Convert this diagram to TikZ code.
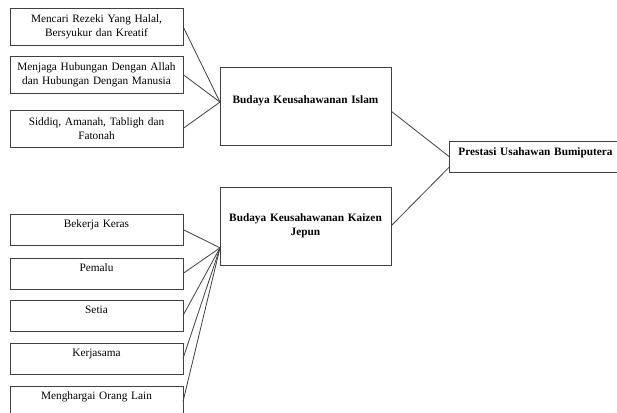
\documentclass[tikz,border=0pt]{standalone}
\usepackage{fontspec}
\setmainfont{Liberation Serif}
\usetikzlibrary{positioning,calc}
\tikzset{
    leftbox/.style={rectangle, draw=black!75, line width=0.9pt, text width=159pt,
                    inner xsep=7pt, inner ysep=0pt, outer sep=0pt, align=center,
                    font=\fontsize{11.3}{14}\selectfont},
    twoline/.style={leftbox, minimum height=37pt},
    oneline/.style={leftbox, minimum height=31pt, text height=8pt, text depth=12pt},
    bigbox/.style={rectangle, draw=black!75, line width=0.9pt, text width=157pt,
                   inner xsep=7pt, inner ysep=0pt, outer sep=0pt, align=center, minimum height=78pt,
                   font=\fontsize{11.3}{14}\selectfont\bfseries},
    endbox/.style={rectangle, draw=black!75, line width=0.9pt, text width=155pt,
                   inner xsep=9pt, inner ysep=0pt, outer sep=0pt, align=center, minimum height=31pt,
                   text height=8pt, text depth=10pt,
                   font=\fontsize{11.3}{14}\selectfont\bfseries},
    link/.style={draw=black!75, line width=0.8pt},
}
\begin{document}
\begin{tikzpicture}[x=1pt, y=1pt]
    \useasboundingbox (0,0) rectangle (617,-412);

    % Islamic values
    \node [twoline, anchor=north west] (rezeki) at (10,-8) {Mencari Rezeki Yang Halal,\\ Bersyukur dan Kreatif};
    \node [twoline, below=11pt of rezeki]    (hubungan)  {Menjaga Hubungan Dengan Allah\\ dan Hubungan Dengan Manusia};
    \node [twoline, below=17pt of hubungan]  (siddiq)    {Siddiq, Amanah, Tabligh dan\\ Fatonah};

    % Kaizen values
    \node [oneline, below=67pt of siddiq]    (keras)     {Bekerja Keras};
    \node [oneline, below=13pt of keras]     (pemalu)    {Pemalu};
    \node [oneline, below=11pt of pemalu]    (setia)     {Setia};
    \node [oneline, below=12pt of setia]     (kerjasama) {Kerjasama};
    \node [oneline, below=12pt of kerjasama] (hargai)    {Menghargai Orang Lain};

    % Cultures
    \node [bigbox, anchor=north west, text depth=12pt] (islam) at (220,-67) {Budaya Keusahawanan Islam};
    \node [bigbox, below=42pt of islam]      (kaizen)    {Budaya Keusahawanan Kaizen\\ Jepun};

    % Result
    \node [endbox, anchor=north west] (prestasi) at (449,-141) {Prestasi Usahawan Bumiputera};

    % Joints
    \coordinate (iin)  at ($(islam.west)!0.1!(islam.north west)$);
    \coordinate (kin)  at ($(kaizen.west)!0.56!(kaizen.south west)$);
    \coordinate (iout) at ($(islam.east)!0.13!(islam.south east)$);
    \coordinate (pin)  at ($(prestasi.west)!0.7!(prestasi.south west)$);

    % Lines
    \foreach \n in {rezeki,hubungan,siddiq}
        \draw [link] (\n.east) -- (iin);
    \foreach \n in {keras,pemalu,setia,kerjasama,hargai}
        \draw [link] (\n.east) -- (kin);
    \draw [link] (iout) -- (prestasi.west);
    \draw [link] (kaizen.east) -- (pin);
\end{tikzpicture}
\end{document}
